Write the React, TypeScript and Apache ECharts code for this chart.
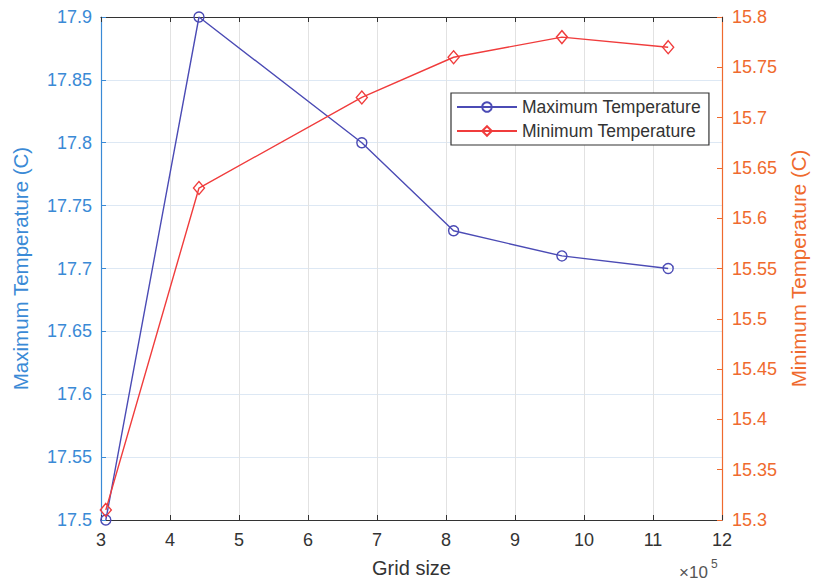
import React, { useEffect, useRef } from "react";
import * as echarts from "echarts";

const gridSizes = [3.07, 4.42, 6.78, 8.11, 9.68, 11.22];
const maxTemps = [17.5, 17.9, 17.8, 17.73, 17.71, 17.7];
const minTemps = [15.31, 15.63, 15.72, 15.76, 15.78, 15.77];
const seriesNames = ["Maximum Temperature", "Minimum Temperature"];

const LEFT_COLOR = "#3a8ad6";
const RIGHT_COLOR = "#ef6a2e";
const MAX_LINE = "#4b4bb5";
const MIN_LINE = "#f03c3c";
const FONT = "Liberation Sans, Arial, sans-serif";

const fmt = (v: number) => String(+v.toFixed(2));

export default function App() {
  const ref = useRef<HTMLDivElement>(null);
  useEffect(() => {
    if (!ref.current) return;
    const chart = echarts.init(ref.current, undefined, { renderer: "svg" });
    chart.setOption({
      animation: false,
      backgroundColor: "#ffffff",
      grid: { left: 101, right: 93, top: 17, bottom: 67, containLabel: false, outerBoundsMode: "none" },
      legend: {
        left: 451,
        top: 93,
        orient: "vertical",
        data: seriesNames,
        backgroundColor: "#ffffff",
        borderColor: "#333333",
        borderWidth: 1.2,
        borderRadius: 0,
        padding: [5, 8, 5, 5],
        itemWidth: 60,
        itemHeight: 12,
        itemGap: 6,
        textStyle: { fontFamily: FONT, fontSize: 17.5, color: "#333333" },
      },
      xAxis: [
        {
          type: "value",
          min: 3,
          max: 12,
          interval: 1,
          position: "bottom",
          name: "Grid size",
          nameLocation: "middle",
          nameGap: 38,
          nameTextStyle: { fontFamily: FONT, fontSize: 20, color: "#333333" },
          axisLine: { show: true, lineStyle: { color: "#333333", width: 1.2 } },
          axisTick: { show: true, inside: true, length: 5, lineStyle: { color: "#333333" } },
          axisLabel: { fontFamily: FONT, fontSize: 18, color: "#333333", margin: 11 },
          splitLine: { show: true, lineStyle: { color: "#e2e2e2", width: 1 } },
        },
        {
          type: "value",
          min: 3,
          max: 12,
          interval: 1,
          position: "top",
          axisLine: { show: true, lineStyle: { color: "#333333", width: 1.2 } },
          axisTick: { show: true, inside: true, length: 5, lineStyle: { color: "#333333" } },
          axisLabel: { show: false },
          splitLine: { show: false },
        },
      ],
      yAxis: [
        {
          type: "value",
          min: 17.5,
          max: 17.9,
          interval: 0.05,
          position: "left",
          name: "Maximum Temperature (C)",
          nameLocation: "middle",
          nameRotate: 90,
          nameGap: 70,
          nameTextStyle: { fontFamily: FONT, fontSize: 20.5, color: LEFT_COLOR },
          axisLine: { show: true, lineStyle: { color: LEFT_COLOR, width: 1.2 } },
          axisTick: { show: true, inside: true, length: 5, lineStyle: { color: LEFT_COLOR } },
          axisLabel: { fontFamily: FONT, fontSize: 18, color: LEFT_COLOR, margin: 9, formatter: fmt },
          splitLine: { show: true, lineStyle: { color: "#dde8f4", width: 1 } },
        },
        {
          type: "value",
          min: 15.3,
          max: 15.8,
          interval: 0.05,
          position: "right",
          name: "Minimum Temperature (C)",
          nameLocation: "middle",
          nameRotate: 90,
          nameGap: 66,
          nameTextStyle: { fontFamily: FONT, fontSize: 20.5, color: RIGHT_COLOR },
          axisLine: { show: true, lineStyle: { color: RIGHT_COLOR, width: 1.2 } },
          axisTick: { show: true, inside: true, length: 5, lineStyle: { color: RIGHT_COLOR } },
          axisLabel: { fontFamily: FONT, fontSize: 18, color: RIGHT_COLOR, margin: 10, formatter: fmt },
          splitLine: { show: false },
        },
      ],
      series: [
        {
          name: seriesNames[0],
          type: "line",
          xAxisIndex: 0,
          yAxisIndex: 0,
          data: gridSizes.map((x, i) => [x, maxTemps[i]]),
          symbol: "circle",
          symbolSize: 10,
          showAllSymbol: true,
          lineStyle: { color: MAX_LINE, width: 1.4 },
          itemStyle: { color: "rgba(255,255,255,0)", borderColor: MAX_LINE, borderWidth: 1.4 },
          z: 3,
        },
        {
          name: seriesNames[1],
          type: "line",
          xAxisIndex: 0,
          yAxisIndex: 1,
          data: gridSizes.map((x, i) => [x, minTemps[i]]),
          symbol: "diamond",
          symbolSize: [11, 13],
          showAllSymbol: true,
          lineStyle: { color: MIN_LINE, width: 1.4 },
          itemStyle: { color: "rgba(255,255,255,0)", borderColor: MIN_LINE, borderWidth: 1.4 },
          z: 3,
        },
      ],
      graphic: [
        {
          type: "text",
          left: 679,
          top: 564,
          style: { text: "×10", fontFamily: FONT, fontSize: 17, fill: "#555555" },
        },
        {
          type: "text",
          left: 711,
          top: 558,
          style: { text: "5", fontFamily: FONT, fontSize: 12, fill: "#555555" },
        },
      ],
    });
    return () => chart.dispose();
  }, []);
  return (
    <div
      ref={ref}
      style={{ position: "absolute", left: 0, top: 0, width: 815, height: 587, background: "#fff" }}
    />
  );
}
